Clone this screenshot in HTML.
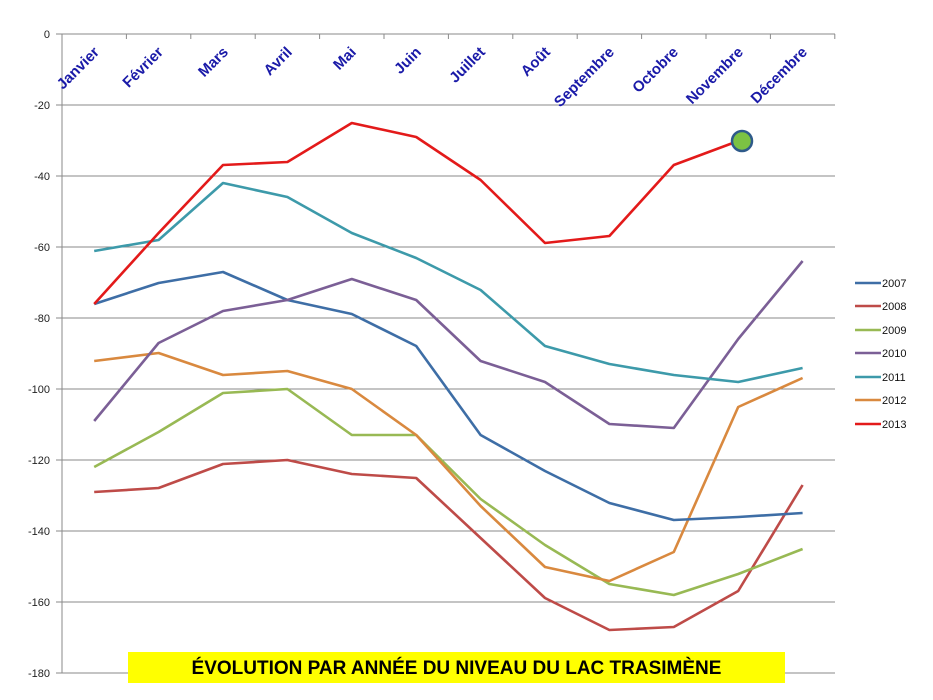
<!DOCTYPE html>
<html><head><meta charset="utf-8"><style>
body{margin:0;background:#fff;width:933px;height:700px;overflow:hidden}
svg{display:block;font-family:"Liberation Sans",sans-serif}
</style></head><body>
<svg width="933" height="700" viewBox="0 0 933 700">
<g stroke="#8a8a8a" stroke-width="1">
<line x1="62" y1="34" x2="835" y2="34"/>
<line x1="62" y1="105" x2="835" y2="105"/>
<line x1="62" y1="176" x2="835" y2="176"/>
<line x1="62" y1="247" x2="835" y2="247"/>
<line x1="62" y1="318" x2="835" y2="318"/>
<line x1="62" y1="389" x2="835" y2="389"/>
<line x1="62" y1="460" x2="835" y2="460"/>
<line x1="62" y1="531" x2="835" y2="531"/>
<line x1="62" y1="602" x2="835" y2="602"/>
<line x1="62" y1="673" x2="835" y2="673"/>
<line x1="62" y1="34" x2="62" y2="673"/>
<line x1="56" y1="34" x2="62" y2="34"/><line x1="56" y1="105" x2="62" y2="105"/><line x1="56" y1="176" x2="62" y2="176"/><line x1="56" y1="247" x2="62" y2="247"/><line x1="56" y1="318" x2="62" y2="318"/><line x1="56" y1="389" x2="62" y2="389"/><line x1="56" y1="460" x2="62" y2="460"/><line x1="56" y1="531" x2="62" y2="531"/><line x1="56" y1="602" x2="62" y2="602"/><line x1="56" y1="673" x2="62" y2="673"/>
<line x1="126.4" y1="34" x2="126.4" y2="39"/><line x1="190.8" y1="34" x2="190.8" y2="39"/><line x1="255.2" y1="34" x2="255.2" y2="39"/><line x1="319.6" y1="34" x2="319.6" y2="39"/><line x1="384" y1="34" x2="384" y2="39"/><line x1="448.4" y1="34" x2="448.4" y2="39"/><line x1="512.8" y1="34" x2="512.8" y2="39"/><line x1="577.2" y1="34" x2="577.2" y2="39"/><line x1="641.6" y1="34" x2="641.6" y2="39"/><line x1="706" y1="34" x2="706" y2="39"/><line x1="770.4" y1="34" x2="770.4" y2="39"/><line x1="834.8" y1="34" x2="834.8" y2="39"/>
</g>
<g font-size="11" fill="#222" text-anchor="end">
<text x="50" y="38">0</text><text x="50" y="109">-20</text><text x="50" y="180">-40</text><text x="50" y="251">-60</text><text x="50" y="322">-80</text><text x="50" y="393">-100</text><text x="50" y="464">-120</text><text x="50" y="535">-140</text><text x="50" y="606">-160</text><text x="50" y="677">-180</text>
</g>
<g font-size="15" font-weight="bold" fill="#1a1aa8" text-anchor="end">
<text transform="translate(100,53) rotate(-45)">Janvier</text>
<text transform="translate(164,53) rotate(-45)">Février</text>
<text transform="translate(229,53) rotate(-45)">Mars</text>
<text transform="translate(293,53) rotate(-45)">Avril</text>
<text transform="translate(357,53) rotate(-45)">Mai</text>
<text transform="translate(422,53) rotate(-45)">Juin</text>
<text transform="translate(486,53) rotate(-45)">Juillet</text>
<text transform="translate(551,53) rotate(-45)">Août</text>
<text transform="translate(615,53) rotate(-45)">Septembre</text>
<text transform="translate(679,53) rotate(-45)">Octobre</text>
<text transform="translate(744,53) rotate(-45)">Novembre</text>
<text transform="translate(808,53) rotate(-45)">Décembre</text>
</g>
<g fill="none" stroke-width="2.6" stroke-linejoin="round">
<polyline stroke="#be4b48" points="94.2,492 158.6,488 223,464 287.4,460 351.8,474 416.2,478 480.6,538 545,598 609.4,630 673.8,627 738.2,591 802.6,485"/>
<polyline stroke="#98b954" points="94.2,467 158.6,432 223,393 287.4,389 351.8,435 416.2,435 480.6,499 545,545 609.4,584 673.8,595 738.2,574 802.6,549"/>
<polyline stroke="#f79646" stroke="#d9893f" points="94.2,361 158.6,353 223,375 287.4,371 351.8,389 416.2,435 480.6,506 545,567 609.4,581 673.8,552 738.2,407 802.6,378" style="stroke:#d9893f"/>
<polyline stroke="#4a7ebb" points="94.2,304 158.6,283 223,272 287.4,300 351.8,314 416.2,346 480.6,435 545,471 609.4,503 673.8,520 738.2,517 802.6,513" style="stroke:#3e6ea6"/>
<polyline stroke="#7b5f96" points="94.2,421 158.6,343 223,311 287.4,300 351.8,279 416.2,300 480.6,361 545,382 609.4,424 673.8,428 738.2,339 802.6,261"/>
<polyline stroke="#3d9aaa" points="94.2,251 158.6,240 223,183 287.4,197 351.8,233 416.2,258 480.6,290 545,346 609.4,364 673.8,375 738.2,382 802.6,368"/>
<polyline stroke="#e31a1a" points="94.2,304 158.6,233 223,165 287.4,162 351.8,123 416.2,137 480.6,180 545,243 609.4,236 673.8,165 738.2,141"/>
</g>
<circle cx="742" cy="141" r="10" fill="#7cc243" stroke="#2e5a8a" stroke-width="2.5"/>
<g stroke-width="2.6">
<line x1="855" y1="283" x2="881" y2="283" stroke="#3e6ea6"/>
<line x1="855" y1="306" x2="881" y2="306" stroke="#be4b48"/>
<line x1="855" y1="330" x2="881" y2="330" stroke="#98b954"/>
<line x1="855" y1="353" x2="881" y2="353" stroke="#7b5f96"/>
<line x1="855" y1="377" x2="881" y2="377" stroke="#3d9aaa"/>
<line x1="855" y1="400" x2="881" y2="400" stroke="#d9893f"/>
<line x1="855" y1="424" x2="881" y2="424" stroke="#e31a1a"/>
</g>
<g font-size="11" fill="#111">
<text x="882" y="287">2007</text><text x="882" y="310">2008</text><text x="882" y="334">2009</text><text x="882" y="357">2010</text><text x="882" y="381">2011</text><text x="882" y="404">2012</text><text x="882" y="428">2013</text>
</g>
<rect x="128" y="652" width="657" height="31" fill="#ffff00"/>
<text x="456.5" y="674" text-anchor="middle" font-size="19" font-weight="bold" fill="#000">ÉVOLUTION PAR ANNÉE DU NIVEAU DU LAC TRASIMÈNE</text>
</svg>
</body></html>
